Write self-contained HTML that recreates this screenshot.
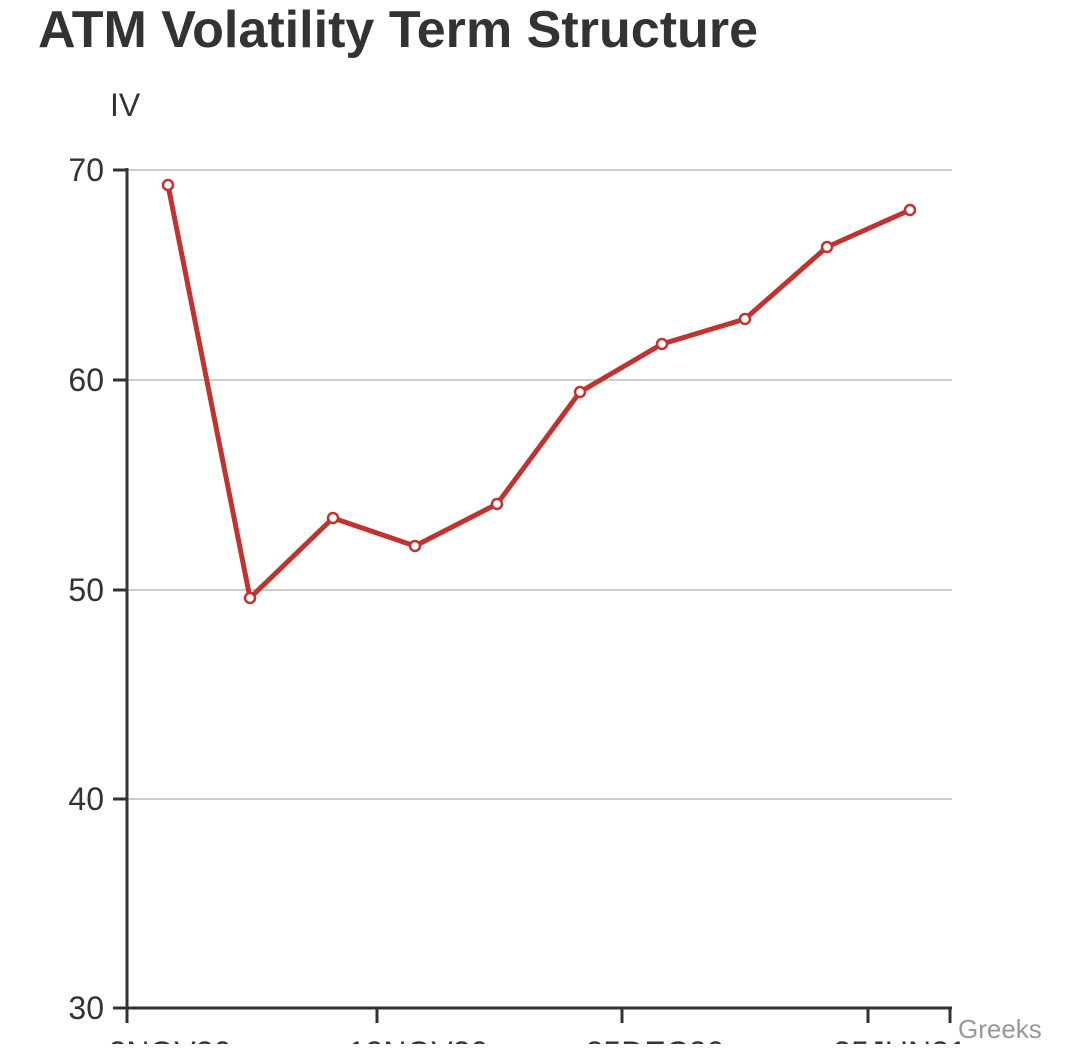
<!DOCTYPE html>
<html><head><style>
body{margin:0;background:#fff;width:1080px;height:1044px;overflow:hidden;font-family:"Liberation Sans",sans-serif}
</style></head><body>
<svg width="1080" height="1044" xmlns="http://www.w3.org/2000/svg" font-family="Liberation Sans, sans-serif">
<text x="38" y="47" font-size="52" font-weight="bold" fill="#333" textLength="720">ATM Volatility Term Structure</text>
<text x="110" y="116" font-size="32" fill="#333">IV</text>
<g stroke="#ccc" stroke-width="2">
<line x1="127" y1="170" x2="952" y2="170"/><line x1="127" y1="380" x2="952" y2="380"/>
<line x1="127" y1="590" x2="952" y2="590"/><line x1="127" y1="799" x2="952" y2="799"/>
</g>
<g stroke="#333" stroke-width="3">
<line x1="127" y1="168" x2="127" y2="1010"/><line x1="125" y1="1008" x2="952" y2="1008"/>
<line x1="113" y1="170" x2="127" y2="170"/><line x1="113" y1="380" x2="127" y2="380"/>
<line x1="113" y1="590" x2="127" y2="590"/><line x1="113" y1="799" x2="127" y2="799"/>
<line x1="113" y1="1008" x2="127" y2="1008"/>
<line x1="127" y1="1008" x2="127" y2="1023"/><line x1="377" y1="1008" x2="377" y2="1023"/>
<line x1="622" y1="1008" x2="622" y2="1023"/><line x1="868" y1="1008" x2="868" y2="1023"/>
<line x1="950" y1="1008" x2="950" y2="1023"/>
</g>
<g font-size="32" fill="#333" text-anchor="end">
<text x="104" y="181">70</text><text x="104" y="391">60</text><text x="104" y="601">50</text>
<text x="104" y="810">40</text><text x="104" y="1019">30</text>
</g>
<g font-size="32" fill="#333" text-anchor="middle">
<text x="170" y="1064">2NOV20</text><text x="418" y="1064">13NOV20</text>
<text x="655" y="1064">25DEC20</text><text x="900" y="1064">25JUN21</text>
</g>
<text x="958" y="1038" font-size="26" fill="#999">Greeks</text>
<polyline fill="none" stroke="#c0332f" stroke-width="5" stroke-linejoin="round" points="168,185 250,598 333,518 415,546 497,504 580,392 662,344 745,319 827,247 910,210"/>
<g fill="#fff" stroke="#c0332f" stroke-width="2.5">
<circle cx="168" cy="185" r="5"/><circle cx="250" cy="598" r="5"/><circle cx="333" cy="518" r="5"/>
<circle cx="415" cy="546" r="5"/><circle cx="497" cy="504" r="5"/><circle cx="580" cy="392" r="5"/>
<circle cx="662" cy="344" r="5"/><circle cx="745" cy="319" r="5"/><circle cx="827" cy="247" r="5"/>
<circle cx="910" cy="210" r="5"/>
</g>
</svg>
</body></html>
